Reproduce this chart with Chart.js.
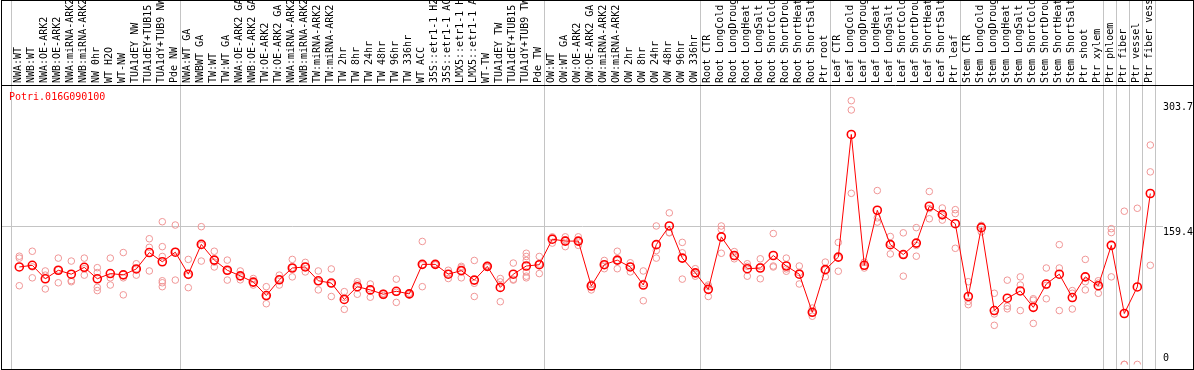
<!DOCTYPE html>
<html><head><meta charset="utf-8">
<script src="https://cdn.jsdelivr.net/npm/chart.js@4.4.1/dist/chart.umd.min.js"></script>
<style>html,body{margin:0;padding:0;background:#fff;overflow:hidden}#wrap{width:1194px;height:370px;position:relative}</style>
</head><body><div id="wrap"><canvas id="c" width="1194" height="370"></canvas></div>
<script>
const geneId = 'Potri.016G090100';
const categories = [
  'NWA:WT','NWB:WT','NWA:OE-ARK2','NWB:OE-ARK2','NWA:miRNA-ARK2','NWB:miRNA-ARK2','NW 0hr','WT H2O','WT-NW',
  'TUA1dEY NW','TUA1dEY+TUB15','TUA1dY+TUB9 NW','Pde NW',
  'NWA:WT GA','NWBWT GA','TW:WT','TW:WT GA','NWA:OE-ARK2 GA','NWB:OE-ARK2 GA','TW:OE-ARK2','TW:OE-ARK2 GA',
  'NWA:miRNA-ARK2','NWB:miRNA-ARK2','TW:miRNA-ARK2','TW:miRNA-ARK2','TW 2hr','TW 8hr','TW 24hr','TW 48hr','TW 96hr','TW 336hr',
  'WT ACC','35S::etr1-1 H2','35S::etr1-1 AC','LMX5::etr1-1 H','LMX5::etr1-1 A','WT-TW','TUA1dEY TW','TUA1dEY+TUB15','TUA1dY+TUB9 TW','Pde TW',
  'OW:WT','OW:WT GA','OW:OE-ARK2','OW:OE-ARK2 GA','OW:miRNA-ARK2','OW:miRNA-ARK2','OW 2hr','OW 8hr','OW 24hr','OW 48hr','OW 96hr','OW 336hr',
  'Root CTR','Root LongCold','Root LongDroug','Root LongHeat','Root LongSalt','Root ShortCold','Root ShortDrou','Root ShortHeat','Root ShortSalt','Ptr root',
  'Leaf CTR','Leaf LongCold','Leaf LongDroug','Leaf LongHeat','Leaf LongSalt','Leaf ShortCold','Leaf ShortDrou','Leaf ShortHeat','Leaf ShortSalt','Ptr leaf',
  'Stem CTR','Stem LongCold','Stem LongDroug','Stem LongHeat','Stem LongSalt','Stem ShortCold','Stem ShortDrou','Stem ShortHeat','Stem ShortSalt',
  'Ptr shoot','Ptr xylem','Ptr phloem','Ptr fiber','Ptr vessel','Ptr fiber vess'
];
const means = [
  112.2,114.1,98.6,108.4,103.9,111.8,98.6,104.6,103.1,109.9,128.8,118.2,129.2,
  103.9,138.2,120.1,108.4,102.0,94.8,79.3,97.4,111.0,112.2,96.3,93.7,74.8,89.5,85.8,80.8,84.2,81.2,
  115.2,115.2,103.9,108.0,97.1,112.9,88.7,103.9,113.3,114.8,
  144.2,142.0,142.0,90.3,114.8,120.1,112.2,91.4,137.9,159.4,122.4,105.4,
  86.4,146.9,125.4,110.2,111.0,125.4,113.3,103.9,60.0,109.1,
  123.5,264.8,114.1,177.5,137.9,126.5,139.7,182.1,172.5,162.0,
  78.2,157.5,62.0,76.2,84.6,65.7,92.6,103.9,77.0,
  100.8,90.6,137.1,58.6,89.2,196.8
];
const replicates = [
  [124.6,122.4,90.6],[130.3,112.3,99.7],[107.6,102.8,86.9],[122.4,108.8,94.0],[119.0,96.5,95.2],[122.4,110.2,102.8],
  [111.4,105.7,88.7,85.0],[122.4,99.7,91.4],[128.8,99.7,80.1],[115.9,109.9,102.8],[144.7,134.8,107.6],
  [164.3,135.6,124.3,96.3,94.0,89.5],[160.5,130.0,97.1],
  [120.9,102.4,88.4],[158.6,137.0,119.0],[130.3,117.8,112.2],[120.1,108.0,97.1],[107.6,101.0,97.4],[98.9,94.0,91.4],
  [89.5,78.5,69.9],[102.8,98.0,91.4],[120.9,111.3,100.8],[117.5,112.6,106.5],[107.6,95.5,85.8],[109.9,93.0,78.2],
  [83.8,77.0,63.4],[95.2,92.5,80.8],[92.6,87.0,77.4],[82.0,81.0,79.3],[98.2,83.0,71.4],[82.0,81.5,80.0],
  [141.6,114.5,89.5],[116.0,115.0,114.5],[108.4,104.4,98.9],[111.4,112.9,99.7],[119.7,93.4,78.2],[114.0,113.0,111.7],
  [98.9,95.0,72.2],[116.7,98.0,97.1],[128.0,124.3,119.7,106.5,101.6,99.7],[124.3,115.5,104.6],
  [146.9,146.0,139.7],[146.9,143.5,135.6],[146.9,142.0,137.1],[92.6,92.5,85.8],[119.7,114.5,110.2],[130.3,119.8,110.2],
  [117.0,113.0,106.5],[107.6,93.3,73.3],[159.4,131.1,122.4],[174.5,152.0,151.5],[140.5,128.5,98.2],[110.2,104.4,101.6],
  [91.4,89.7,78.2],[159.4,155.5,128.0],[129.9,124.7,121.6],[115.9,113.0,101.6],[121.6,112.8,98.6],[150.7,113.3,112.2],
  [122.4,110.0,107.3],[113.3,105.8,92.6],[64.9,59.7,55.5],[117.8,108.7,100.8],
  [140.5,122.7,107.3],[303.7,293.0,197.0],[117.8,113.3,111.0],[200.2,168.8,163.9],[147.3,139.2,127.2],[151.5,126.5,101.6],
  [157.5,137.0,124.6],[199.1,179.5,167.7],[180.1,171.0,166.2],[178.2,173.7,133.7],
  [95.2,72.5,68.8],[160.1,159.8,152.6],[81.9,58.1,45.0],[97.0,67.0,64.0],[100.8,91.4,62.0],[75.6,74.0,47.2],
  [111.0,91.0,75.6],[137.9,111.0,62.0],[85.0,81.9,63.8],
  [120.9,95.2,85.8],[96.3,93.6,81.9],[156.3,151.8,100.8],[176.4,0,0],[179.8,0],[252.6,221.7,114.1]
];
const yTickValues = [303.7, 159.4, 0];
const groupStarts = [0, 13, 41, 53, 63, 73, 84, 85, 86, 87, 88];
const Y_MAX = 321.75;

const FONT = '10px "DejaVu Sans Mono"';
const maxReps = Math.max(...replicates.map(r => r.length));
const repSets = [];
for (let k = 0; k < maxReps; k++) {
  repSets.push({
    data: replicates.map(r => (r[k] === undefined ? null : r[k])),
    showLine: false,
    pointRadius: 3.3,
    pointBorderWidth: 1,
    pointBorderColor: 'rgb(240,150,150)',
    pointBackgroundColor: 'rgba(0,0,0,0)'
  });
}

const decor = {
  id: 'decor',
  beforeDraw(chart) {
    const {ctx, scales: {x, y}} = chart;
    ctx.save();
    ctx.strokeStyle = '#c4c4c4';
    ctx.lineWidth = 1;
    ctx.beginPath();
    groupStarts.forEach(i => {
      const px = Math.round(x.getPixelForValue(i) - 8.3) + 0.5;
      ctx.moveTo(px, 0); ctx.lineTo(px, 369);
    });
    const hy = Math.round(y.getPixelForValue(159.4)) + 0.5;
    ctx.moveTo(2, hy); ctx.lineTo(1163, hy);
    ctx.stroke();
    ctx.restore();
  },
  afterDraw(chart) {
    const {ctx, scales: {y}} = chart;
    ctx.save();
    ctx.font = FONT;
    ctx.fillStyle = '#000';
    ctx.textAlign = 'left';
    ctx.textBaseline = 'middle';
    yTickValues.forEach(v => {
      const py = y.getPixelForValue(v);
      ctx.fillText(String(v), 1163, v === 0 ? py - 5.8 : py + 6.5);
    });
    ctx.fillStyle = '#ff0000';
    ctx.fillText(geneId, 9, 97);
    ctx.strokeStyle = '#000';
    ctx.lineWidth = 1;
    ctx.strokeRect(1.5, 0.5, 1192, 369);
    ctx.beginPath(); ctx.moveTo(1, 85.5); ctx.lineTo(1194, 85.5); ctx.stroke();
    ctx.restore();
  }
};

new Chart(document.getElementById('c'), {
  type: 'line',
  data: {
    labels: categories,
    datasets: [{
      data: means,
      borderColor: '#ff0000',
      borderWidth: 1,
      pointRadius: 4,
      pointBorderWidth: 1.6,
      pointBorderColor: '#ff0000',
      pointBackgroundColor: 'rgba(0,0,0,0)',
      tension: 0
    }, ...repSets]
  },
  options: {
    responsive: false,
    animation: false,
    devicePixelRatio: 1,
    layout: {padding: {left: 12.8, right: 0, top: 0, bottom: 1}},
    plugins: {legend: {display: false}, tooltip: {enabled: false}, title: {display: false}},
    scales: {
      x: {
        position: 'top', offset: true,
        grid: {display: false, drawTicks: false}, border: {display: false},
        ticks: {autoSkip: false, minRotation: 90, maxRotation: 90, padding: 2, labelOffset: 11, color: '#000',
                font: {family: 'DejaVu Sans Mono', size: 10}},
        afterFit(s) { s.height = 85; }
      },
      y: {
        position: 'right', min: 0, max: Y_MAX,
        grid: {display: false, drawTicks: false}, border: {display: false},
        ticks: {display: false},
        afterBuildTicks(s) { s.ticks = yTickValues.map(v => ({value: v})); },
        afterFit(s) { s.width = 37.2; }
      }
    }
  },
  plugins: [decor]
});
</script></body></html>
